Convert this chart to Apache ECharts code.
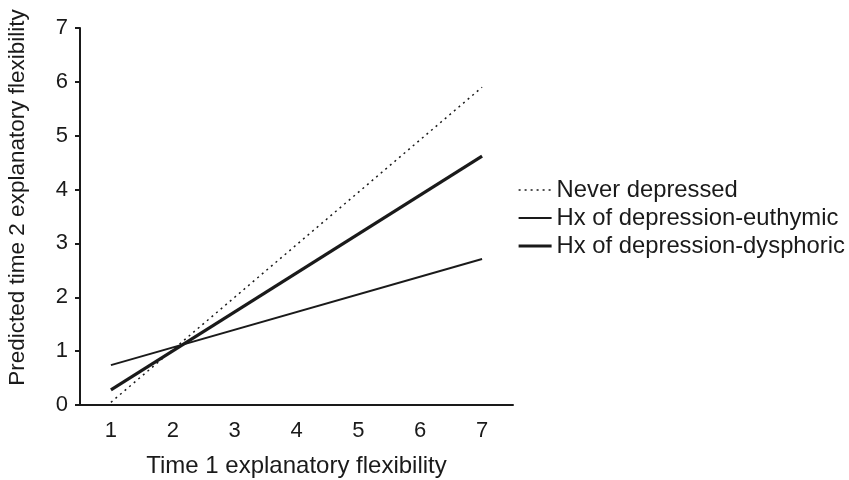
<!DOCTYPE html>
<html>
<head>
    <meta charset="UTF-8">
    <title>Explanatory flexibility</title>
    <script src="https://cdn.jsdelivr.net/npm/echarts@6/dist/echarts.min.js"></script>
</head>
<body style="margin:0;background:#fff;">
    <div id="main" style="width: 849px;height:480px;"></div>
    <script type="text/javascript">
        // x categories (time 1 explanatory flexibility)
        var xCats = ['1', '2', '3', '4', '5', '6', '7'];
        // predicted values at x = 1 and x = 7 (straight lines)
        var neverDep = [['1', 0.05], ['7', 5.9]];
        var euthymic = [['1', 0.74], ['7', 2.71]];
        var dysphoric = [['1', 0.28], ['7', 4.62]];
        var seriesNames = ['Never depressed', 'Hx of depression-euthymic', 'Hx of depression-dysphoric'];

        var ink = '#1a1a1a';
        var font = 'Liberation Sans, Arial, sans-serif';
        var dotted = { color: ink, width: 1.5, type: [2, 4] };
        var thin = { color: ink, width: 2 };
        var thick = { color: ink, width: 3.2 };

        var myChart = echarts.init(document.getElementById('main'));
        myChart.setOption({
            animation: false,
            backgroundColor: '#fff',
            grid: { left: 80, top: 28, right: 336, bottom: 75, outerBoundsMode: 'none', containLabel: false },
            legend: {
                orient: 'vertical',
                left: 512,
                top: 172,
                itemWidth: 33,
                itemHeight: 14,
                itemGap: 2,
                itemStyle: { opacity: 0 },
                textStyle: { fontFamily: font, fontSize: 23.8, color: ink, lineHeight: 26 },
                data: [
                    { name: seriesNames[0], lineStyle: dotted },
                    { name: seriesNames[1], lineStyle: thin },
                    { name: seriesNames[2], lineStyle: thick }
                ]
            },
            xAxis: {
                type: 'category',
                data: xCats,
                boundaryGap: true,
                name: 'Time 1 explanatory flexibility',
                nameLocation: 'middle',
                nameGap: 49,
                nameTextStyle: { fontFamily: font, fontSize: 24, color: ink },
                axisLine: { lineStyle: { color: ink, width: 2 } },
                axisTick: { alignWithLabel: false, length: 5, lineStyle: { color: ink, width: 2 } },
                axisLabel: { fontFamily: font, fontSize: 22, color: ink, margin: 15 },
                splitLine: { show: false }
            },
            yAxis: {
                type: 'value',
                min: 0,
                max: 7,
                interval: 1,
                name: 'Predicted time 2 explanatory flexibility',
                nameLocation: 'middle',
                nameGap: 51,
                nameTextStyle: { fontFamily: font, fontSize: 22.5, color: ink, padding: [0, 0, 0, 38] },
                axisLine: { show: true, lineStyle: { color: ink, width: 2 } },
                axisTick: { show: true, length: 5, lineStyle: { color: ink, width: 2 } },
                axisLabel: { fontFamily: font, fontSize: 22, color: ink, margin: 12 },
                splitLine: { show: false }
            },
            series: [
                {
                    name: seriesNames[0], type: 'line', data: neverDep, symbol: 'none',
                    lineStyle: dotted, itemStyle: { color: ink }
                },
                {
                    name: seriesNames[1], type: 'line', data: euthymic, symbol: 'none',
                    lineStyle: thin, itemStyle: { color: ink }
                },
                {
                    name: seriesNames[2], type: 'line', data: dysphoric, symbol: 'none',
                    lineStyle: thick, itemStyle: { color: ink }
                }
            ]
        });
    </script>
</body>
</html>
